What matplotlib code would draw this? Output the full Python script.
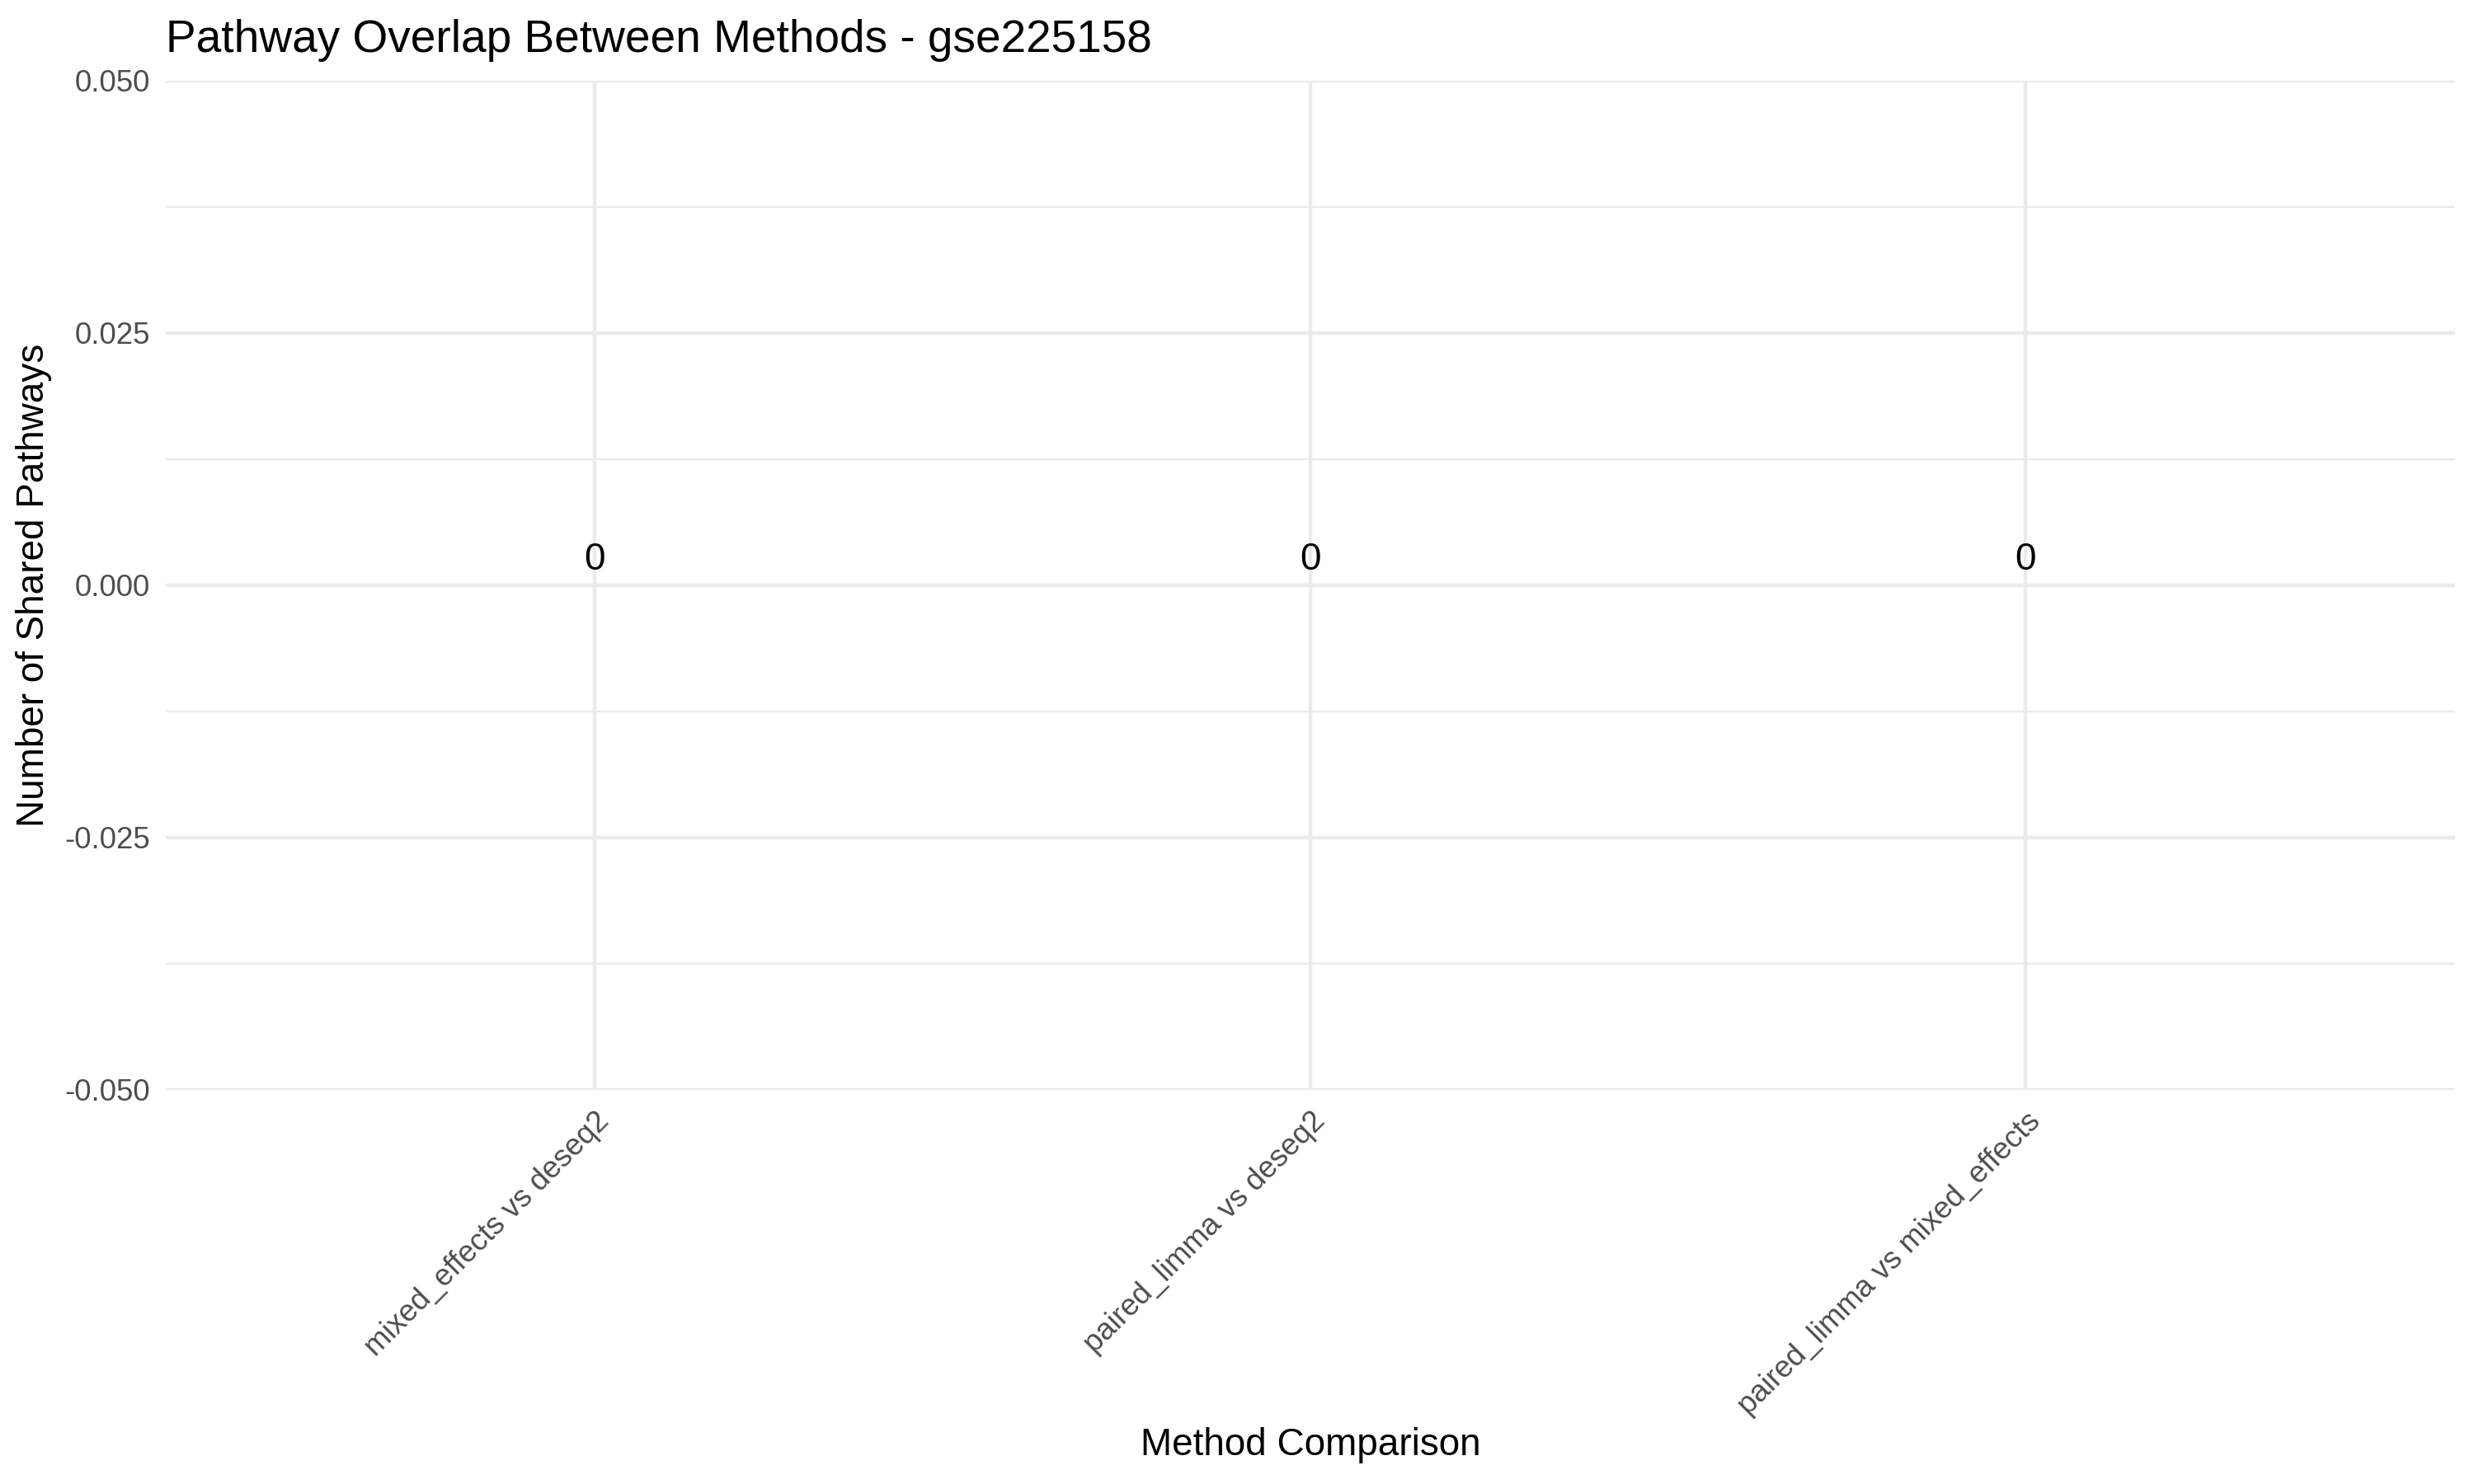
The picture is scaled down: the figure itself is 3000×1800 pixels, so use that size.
import matplotlib.pyplot as plt

comparisons = ['mixed_effects vs deseq2', 'paired_limma vs deseq2',
               'paired_limma vs mixed_effects']
shared = [0, 0, 0]

y_major = [-0.05, -0.025, 0.0, 0.025, 0.05]
y_major_labels = ['-0.050', '-0.025', '0.000', '0.025', '0.050']
y_minor = [-0.0375, -0.0125, 0.0125, 0.0375]

plt.rcParams['font.family'] = ['Liberation Sans', 'DejaVu Sans']

fig = plt.figure(figsize=(10, 6), dpi=300)
ax = fig.add_axes([0.067, 0.2656, 0.9253, 0.68])

x = list(range(len(comparisons)))
ax.bar(x, shared, width=0.9, color='steelblue', linewidth=0, zorder=2)
for xi, v in zip(x, shared):
    ax.annotate(str(v), (xi, v), xytext=(0, 2.2), textcoords='offset points',
                ha='center', va='bottom', fontsize=11, color='black', zorder=3)

ax.set_xlim(-0.6, len(comparisons) - 0.4)
ax.set_ylim(-0.05, 0.05)

ax.set_xticks(x)
ax.set_xticklabels(comparisons, rotation=45, ha='right', rotation_mode='anchor',
                   fontsize=8.8, color='#4D4D4D')
ax.set_yticks(y_major)
ax.set_yticklabels(y_major_labels, fontsize=8.8, color='#4D4D4D')
ax.set_yticks(y_minor, minor=True)
ax.tick_params(axis='both', which='both', length=0)
ax.tick_params(axis='y', pad=4.5)
ax.tick_params(axis='x', pad=5)

ax.grid(True, which='major', color='#EBEBEB', linewidth=1.07, zorder=0)
ax.grid(True, which='minor', axis='y', color='#EBEBEB', linewidth=0.53, zorder=0)
ax.set_axisbelow(True)
for s in ax.spines.values():
    s.set_visible(False)

ax.set_xlabel('Method Comparison', fontsize=11, color='black')
ax.xaxis.set_label_coords(0.5, -0.334)
ax.xaxis.label.set_va('top')
ax.set_ylabel('Number of Shared Pathways', fontsize=11, color='black', labelpad=3.8)
ax.set_title('Pathway Overlap Between Methods - gse225158', loc='left',
             fontsize=13.2, color='black', pad=8.4)

fig.savefig('out.png', dpi=300, facecolor='white')
